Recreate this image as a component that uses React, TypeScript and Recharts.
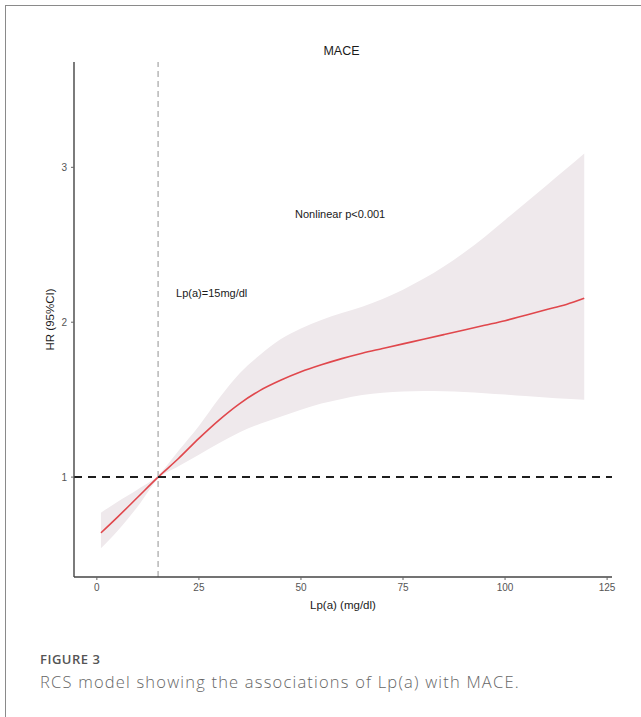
import React from 'react';
import { ComposedChart, Area, Line, XAxis, YAxis, ReferenceLine, ReferenceDot } from 'recharts';

const lpa = [1, 5, 10, 15, 20, 25, 30, 35, 40, 45, 50, 55, 60, 65, 70, 75, 80, 85, 90, 95, 100, 105, 110, 115, 119.4];
const hr = [0.64, 0.74, 0.87, 1.0, 1.12, 1.25, 1.37, 1.475, 1.56, 1.625, 1.68, 1.725, 1.765, 1.8, 1.83, 1.86, 1.89, 1.92, 1.95, 1.98, 2.01, 2.045, 2.08, 2.115, 2.155];
const upper = [0.77, 0.84, 0.92, 1.01, 1.17, 1.33, 1.51, 1.67, 1.79, 1.89, 1.96, 2.015, 2.06, 2.1, 2.15, 2.21, 2.28, 2.36, 2.45, 2.55, 2.66, 2.77, 2.88, 2.99, 3.09];
const lower = [0.54, 0.65, 0.81, 0.99, 1.07, 1.145, 1.22, 1.29, 1.345, 1.39, 1.435, 1.475, 1.505, 1.53, 1.545, 1.553, 1.556, 1.555, 1.55, 1.542, 1.533, 1.523, 1.514, 1.506, 1.5];
const xTicks = [0, 25, 50, 75, 100, 125];
const yTicks = [1, 2, 3];

const data = lpa.map((x, i) => ({ x, hr: hr[i], band: [lower[i], upper[i]] }));

const chartFont = '"Liberation Sans", Arial, sans-serif';

export default function App() {
  return (
    <div style={{ position: 'absolute', left: 0, top: 0, width: 641, height: 717, overflow: 'hidden', background: '#fff' }}>
      <div style={{ position: 'absolute', left: 5, top: 5, width: 700, height: 800, borderTop: '1px solid #8a8a8a', borderLeft: '1px solid #8a8a8a' }} />
      <div style={{ position: 'absolute', left: 0, top: 43, width: 683, textAlign: 'center', fontFamily: chartFont, fontSize: 12.5, color: '#1a1a1a', lineHeight: '16px' }}>MACE</div>
      <div style={{ position: 'absolute', left: 0, top: 0 }}>
        <ComposedChart width={641} height={625} data={data} margin={{ top: 62, right: 29, bottom: 0, left: 0 }} style={{ fontFamily: chartFont }}>
          <XAxis
            type="number"
            dataKey="x"
            domain={[-5.6, 126.2]}
            ticks={xTicks}
            allowDataOverflow
            height={48}
            stroke="#444"
            strokeWidth={1.4}
            tickSize={3}
            tickMargin={4}
            tickLine={{ stroke: '#666', strokeWidth: 1 }}
            tick={{ fontSize: 10, fill: '#555' }}
            label={{ value: 'Lp(a) (mg/dl)', position: 'insideBottom', offset: 16, style: { fontSize: 11.5, fill: '#1a1a1a' } }}
          />
          <YAxis
            type="number"
            domain={[0.355, 3.68]}
            ticks={yTicks}
            allowDataOverflow
            width={74}
            stroke="#444"
            strokeWidth={1.4}
            tickSize={3}
            tickMargin={4}
            tickLine={{ stroke: '#666', strokeWidth: 1 }}
            tick={{ fontSize: 10, fill: '#555' }}
            label={{ value: 'HR (95%CI)', angle: -90, position: 'insideLeft', offset: 50, style: { textAnchor: 'middle', fontSize: 11.5, fill: '#1a1a1a' } }}
          />
          <Area dataKey="band" type="monotone" fill="#efe9ec" fillOpacity={1} stroke="none" isAnimationActive={false} />
          <Line dataKey="hr" type="monotone" stroke="#e0474c" strokeWidth={1.6} dot={false} isAnimationActive={false} />
          <ReferenceLine x={15} stroke="#acacac" strokeWidth={1.3} strokeDasharray="6 4" />
          <ReferenceLine y={1} stroke="#1e1e1e" strokeWidth={2} strokeDasharray="8 6" />
          <ReferenceDot x={59.6} y={2.7} r={0} fill="none" stroke="none" label={{ value: 'Nonlinear p<0.001', position: 'center', style: { fontSize: 11, fill: '#1a1a1a' } }} />
          <ReferenceDot x={19.4} y={2.187} r={0} fill="none" stroke="none" label={{ value: 'Lp(a)=15mg/dl', position: 'right', offset: 0, style: { fontSize: 11, fill: '#1a1a1a' } }} />
        </ComposedChart>
      </div>
      <div style={{ position: 'absolute', left: 40, top: 650, fontFamily: '"Open Sans", sans-serif', fontWeight: 600, fontSize: 13, color: '#555', letterSpacing: 0.5, lineHeight: '18px' }}>FIGURE 3</div>
      <div style={{ position: 'absolute', left: 40, top: 672, fontFamily: '"Open Sans", sans-serif', fontWeight: 300, fontSize: 16.5, color: '#666', letterSpacing: 1.2, lineHeight: '20px' }}>RCS model showing the associations of Lp(a) with MACE.</div>
    </div>
  );
}
